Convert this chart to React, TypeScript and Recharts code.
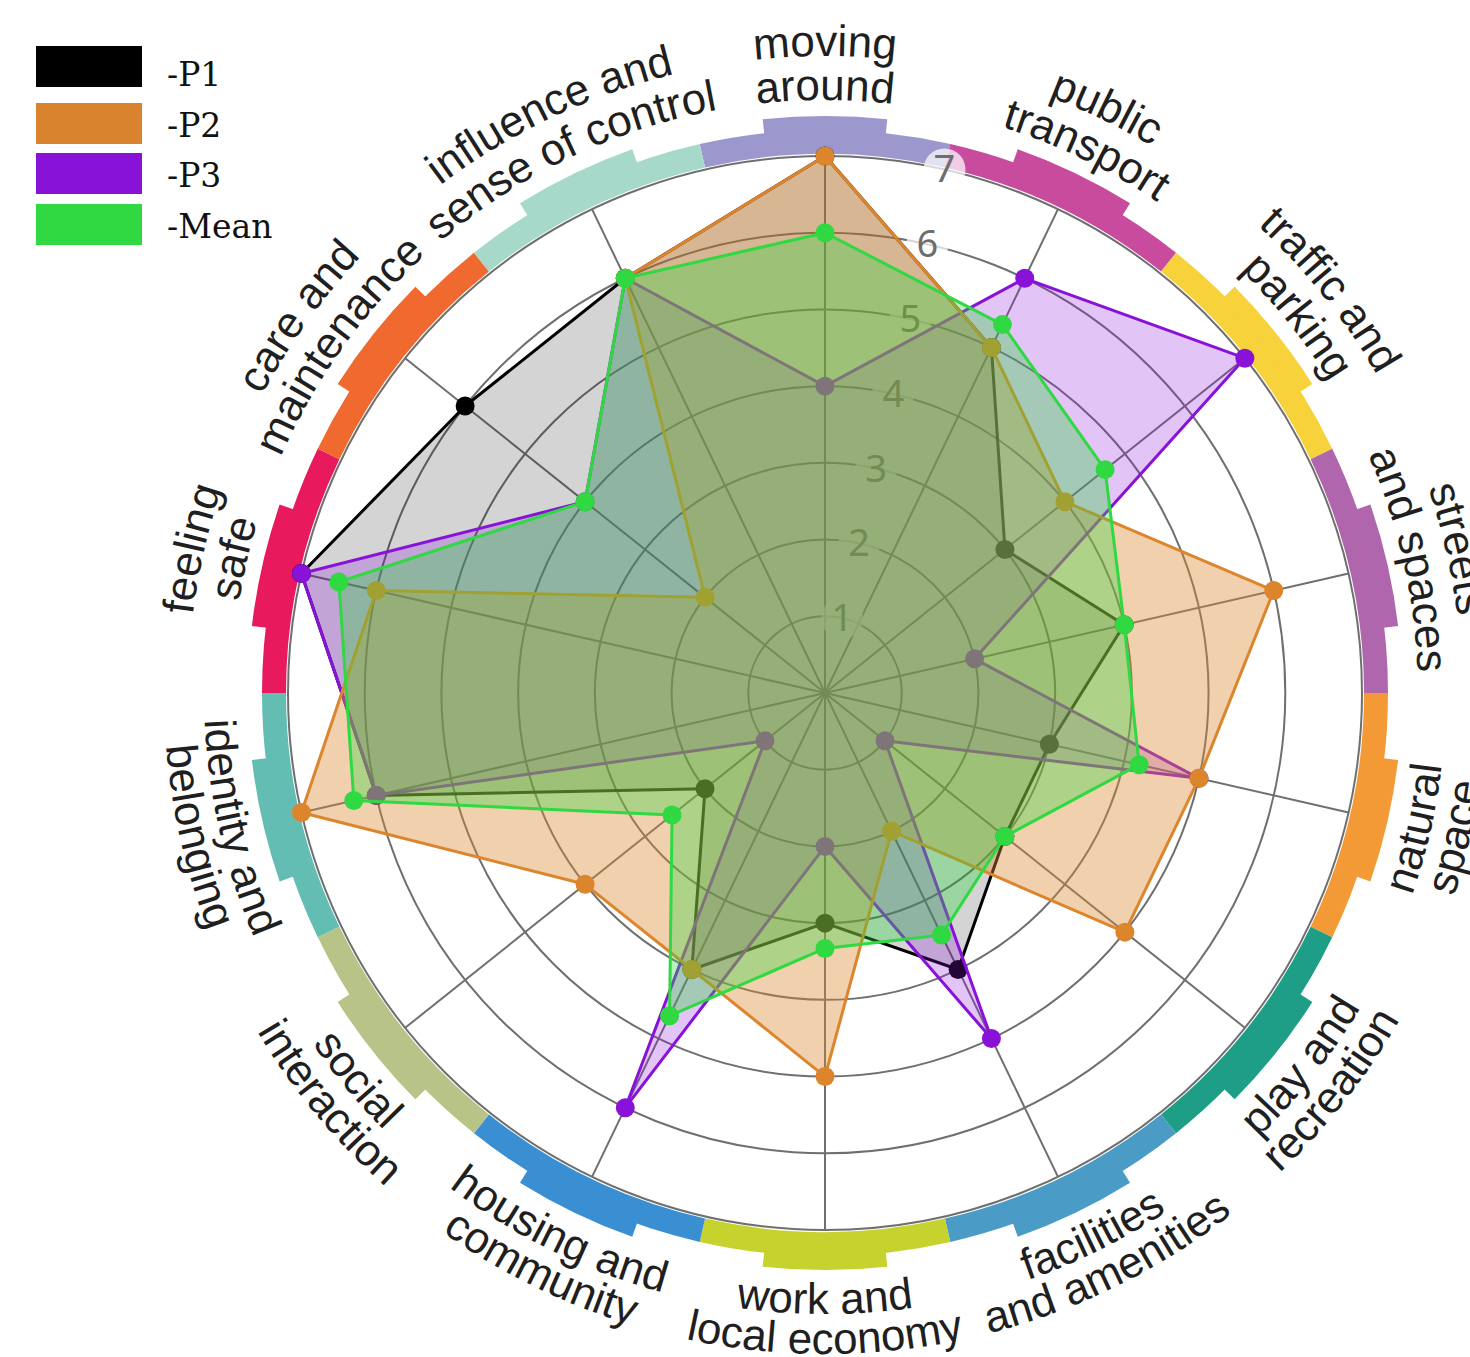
import React from 'react';
import { RadarChart, Radar, PolarGrid, PolarAngleAxis, PolarRadiusAxis, Polygon, Dot } from 'recharts';

// category labels, split the way they wrap round the ring
const labelLines: string[][] = [
  ['moving', 'around'],
  ['public', 'transport'],
  ['traffic and', 'parking'],
  ['streets', 'and spaces'],
  ['natural', 'space'],
  ['play and', 'recreation'],
  ['facilities', 'and amenities'],
  ['work and', 'local economy'],
  ['housing and', 'community'],
  ['social', 'interaction'],
  ['identity and', 'belonging'],
  ['feeling', 'safe'],
  ['care and', 'maintenance'],
  ['influence and', 'sense of control'],
];
const categories = labelLines.map((l) => l.join(' '));

const p1 = [7, 5, 3, 4, 3, 3, 4, 3, 4, 2, 6, 7, 6, 6];
const p2 = [7, 5, 4, 6, 5, 5, 2, 5, 4, 4, 7, 6, 2, 6];
const p3 = [4, 6, 7, 2, 5, 1, 5, 2, 6, 1, 6, 7, 4, 6];
const mean = [6, 5.33, 4.67, 4, 4.2, 3, 3.5, 3.33, 4.67, 2.55, 6.3, 6.5, 4, 6];

const bandColors = [
  '#9c98cd', '#c94b9d', '#f8d23a', '#b066ad', '#f39a36', '#1f9e87', '#4a9bc5',
  '#c6d22e', '#3a8fd2', '#b8c487', '#64bdb3', '#e8195d', '#f0692f', '#a6d9ca',
];
// small angular nudges for labels that would otherwise collide
const labelShift = [0, 0, 0, 0, 0, -0.5, -0.5, 0, 0.5, -1, 0, 0, -3, 0.3];

const legendItems = [
  { name: 'P1', color: '#000000' },
  { name: 'P2', color: '#d9832f' },
  { name: 'P3', color: '#8812d8' },
  { name: 'Mean', color: '#30d842' },
];

const data = categories.map((c, i) => ({ category: c, P1: p1[i], P2: p2[i], P3: p3[i], Mean: mean[i] }));

const CX = 825;
const CY = 693;
const OUTER = 537;

const pt = (deg: number, r: number) => {
  const a = (deg * Math.PI) / 180;
  return [CX + r * Math.sin(a), CY - r * Math.cos(a)];
};

const sector = (a0: number, a1: number, r0: number, r1: number) => {
  const [x0, y0] = pt(a0, r1);
  const [x1, y1] = pt(a1, r1);
  const [x2, y2] = pt(a1, r0);
  const [x3, y3] = pt(a0, r0);
  return `M${x0},${y0} A${r1},${r1} 0 0 1 ${x1},${y1} L${x2},${y2} A${r0},${r0} 0 0 0 ${x3},${y3} Z`;
};

const arcPath = (deg: number, r: number, top: boolean) => {
  if (top) {
    const [x0, y0] = pt(deg - 70, r);
    const [x1, y1] = pt(deg + 70, r);
    return `M${x0},${y0} A${r},${r} 0 0 1 ${x1},${y1}`;
  }
  const [x0, y0] = pt(deg + 70, r);
  const [x1, y1] = pt(deg - 70, r);
  return `M${x0},${y0} A${r},${r} 0 0 0 ${x1},${y1}`;
};

const AngleTick = (props: any) => {
  const { x, y, payload } = props;
  const index = props.index ?? categories.indexOf(payload.value);
  const deg = ((Math.atan2(x - CX, CY - y) * 180) / Math.PI + 360) % 360;
  const step = 360 / categories.length;
  const top = deg <= 90.5 || deg >= 269.5;
  const radii = top ? [637, 593] : [621, 661];
  const color = bandColors[index];
  const textDeg = deg + labelShift[index];
  return (
    <g>
      <path d={sector(deg - step / 2, deg + step / 2, OUTER + 2, 563)} fill={color} />
      <path d={sector(deg - 6.2, deg + 6.2, 560, 577)} fill={color} />
      {labelLines[index].map((line, j) => {
        const id = `cat-label-${index}-${j}`;
        return (
          <g key={j}>
            <path id={id} d={arcPath(textDeg, radii[j], top)} fill="none" stroke="none" />
            <text fontFamily="'Liberation Sans', Arial, sans-serif" fontSize={44} fill="#1f1f1f" textAnchor="middle">
              <textPath href={`#${id}`} startOffset="50%">
                {line}
              </textPath>
            </text>
          </g>
        );
      })}
    </g>
  );
};

const RadiusTick = (props: any) => {
  const { x, y, payload } = props;
  if (!payload || payload.value === 0) return <g />;
  return (
    <g>
      <circle cx={x} cy={y} r={21} fill="#ffffff" fillOpacity={0.72} />
      <text x={x} y={y} dy={13} textAnchor="middle" fontSize={38} fill="#6d6d6d" fontFamily="'Noto Sans', sans-serif">
        {payload.value}
      </text>
    </g>
  );
};

// polygon and its dots in one group, so later series' fills lie over earlier dots
const radarShape = (color: string, fill: string, fillOpacity: number) => (props: any) => {
  const pts = props.points || [];
  return (
    <g>
      <Polygon points={pts} fill={fill} fillOpacity={fillOpacity} stroke={color} strokeWidth={3} strokeLinejoin="round" />
      {pts.map((p: any, i: number) => (
        <Dot key={i} cx={p.x} cy={p.y} r={9.5} fill={color} stroke="none" />
      ))}
    </g>
  );
};

export default function App() {
  return (
    <div style={{ position: 'absolute', left: 0, top: 0, width: 1470, height: 1357, overflow: 'hidden', background: '#fff' }}>
      <RadarChart
        width={1470}
        height={1357}
        cx={CX}
        cy={CY}
        outerRadius={OUTER}
        margin={{ top: 0, right: 0, bottom: 0, left: 0 }}
        data={data}
      >
        <PolarGrid gridType="circle" stroke="#6f6f6f" strokeWidth={2} zIndex={-100} />
        <PolarAngleAxis dataKey="category" tick={AngleTick} axisLine={false} tickLine={false} zIndex={-60} />
        <PolarRadiusAxis
          angle={90 - 360 / 28}
          domain={[0, 7]}
          tickCount={8}
          type="number"
          axisLine={false}
          tickLine={false}
          tick={RadiusTick}
          zIndex={-50}
        />
        <Radar
          name="P1"
          dataKey="P1"
          stroke="#000000"
          fill="#000000"
          shape={radarShape('#000000', '#000000', 0.17)}
          dot={false}
          isAnimationActive={false}
        />
        <Radar
          name="P3"
          dataKey="P3"
          stroke="#8812d8"
          fill="#8a12dc"
          shape={radarShape('#8812d8', '#8a12dc', 0.25)}
          dot={false}
          isAnimationActive={false}
        />
        <Radar
          name="P2"
          dataKey="P2"
          stroke="#dd852c"
          fill="#dd8a35"
          shape={radarShape('#dd852c', '#dd8a35', 0.4)}
          dot={false}
          isAnimationActive={false}
        />
        <Radar
          name="Mean"
          dataKey="Mean"
          stroke="#30d842"
          fill="#30d842"
          shape={radarShape('#30d842', '#30d842', 0.35)}
          dot={false}
          isAnimationActive={false}
        />
      </RadarChart>
      {/* legend */}
      <div style={{ position: 'absolute', left: 0, top: 0, fontFamily: "'DejaVu Serif', serif", fontSize: 33, color: '#111' }}>
        {legendItems.map((s, i) => (
          <div
            key={s.name}
            style={{ position: 'absolute', left: 36, top: [46, 103, 153, 204][i], width: 300, height: 41, display: 'flex', alignItems: 'center' }}
          >
            <div style={{ width: 106, height: 41, background: s.color }} />
            <span style={{ marginLeft: 25, lineHeight: '41px', position: 'relative', top: i === 0 ? 8 : 2 }}>-{s.name}</span>
          </div>
        ))}
      </div>
    </div>
  );
}
